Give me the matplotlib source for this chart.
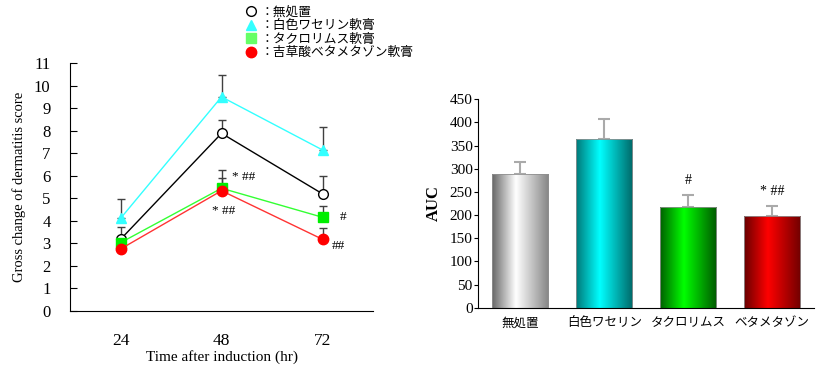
import numpy as np
import matplotlib
matplotlib.use("Agg")
import matplotlib.pyplot as plt
from matplotlib.lines import Line2D
from matplotlib.colors import LinearSegmentedColormap

plt.rcParams['font.family'] = ['Liberation Serif', 'Noto Sans CJK JP']

# time course data
hours = [24, 48, 72]
series_names = ['：無処置', '：白色ワセリン軟膏', '：タクロリムス軟膏', '：吉草酸ベタメタゾン軟膏']
untreated = [3.17, 7.88, 5.19]
untreated_err = [0.53, 0.57, 0.81]
vaseline = [4.1, 9.5, 7.14]
vaseline_err = [0.85, 0.96, 1.04]
tacrolimus = [3.02, 5.44, 4.15]
tacrolimus_err = [0.0, 0.81, 0.52]
betamethasone = [2.74, 5.33, 3.17]
betamethasone_err = [0.0, 0.57, 0.49]

# AUC data
groups = ['無処置', '白色ワセリン', 'タクロリムス', 'ベタメタゾン']
auc = [288, 365, 217, 197]
auc_err = [26, 42, 27, 23]
auc_marks = ['', '', '#', '* ##']

fig = plt.figure(figsize=(8.19, 3.69), dpi=100)

# ---- left: line chart
ax = fig.add_axes([0.0855, 0.158, 0.37, 0.671])
styles = [
    (untreated, untreated_err, 'black', 'o', 'white', 'black', 7),
    (vaseline, vaseline_err, '#33ffff', '^', '#33ffff', '#33ffff', 7),
    (tacrolimus, tacrolimus_err, '#33ff33', 's', '#00ee00', '#00ee00', 6.5),
    (betamethasone, betamethasone_err, '#ff3333', 'o', '#ff0000', '#ff0000', 7.5),
]
for vals, err, lc, mk, mfc, mec, ms in styles:
    ax.errorbar(hours, vals, yerr=[np.zeros(3), err], fmt='none',
                ecolor='#404040', elinewidth=1, capsize=3, capthick=1, zorder=2)
    ax.plot(hours, vals, color=lc, lw=1, marker=mk, mfc=mfc, mec=mec,
            ms=ms, zorder=3)

ax.text(50.6, 5.94, '* ##', fontsize=9.5, va='center', ha='left')
ax.text(45.8, 4.43, '* ##', fontsize=9.5, va='center', ha='left')
ax.text(76.2, 4.16, '#', fontsize=9.5, va='center', ha='left')
ax.text(74.3, 2.88, '##', fontsize=9.5, va='center', ha='left')

ax.set_xlim(12, 84)
ax.set_ylim(0, 11)
ax.set_yticks(range(0, 12))
ax.set_xticks(hours)
ax.tick_params(axis='y', direction='in', length=5, labelsize=12, pad=14)
ax.tick_params(axis='x', length=0, labelsize=12.5, pad=16)
for s in ['top', 'right']:
    ax.spines[s].set_visible(False)
ax.set_xlabel('Time after induction (hr)', fontsize=11, labelpad=1)
ax.set_ylabel('Gross change of dermatitis score', fontsize=10.5, labelpad=6)

handles = [
    Line2D([], [], ls='none', marker='o', mfc='white', mec='black', ms=7),
    Line2D([], [], ls='none', marker='^', mfc='#33ffff', mec='#33ffff', ms=7),
    Line2D([], [], ls='none', marker='s', mfc='#66ff66', mec='#66ff66', ms=6.5),
    Line2D([], [], ls='none', marker='o', mfc='#ff0000', mec='#ff0000', ms=7.5),
]
fig.legend(handles, series_names, loc='upper left',
           bbox_to_anchor=(0.292, 0.997), frameon=False, fontsize=9.2,
           handlelength=1, handletextpad=0.3, labelspacing=0.12,
           borderaxespad=0)

# ---- right: AUC bars with gradient fill
ax2 = fig.add_axes([0.584, 0.166, 0.41, 0.565])
x = np.arange(len(groups))
bars = ax2.bar(x, auc, width=0.67, color='none', edgecolor='#909090',
               linewidth=0.6, zorder=3)
ax2.errorbar(x, auc, yerr=[np.zeros(len(auc)), auc_err], fmt='none',
             ecolor='#aaaaaa', elinewidth=1.5, capsize=4, capthick=1.5,
             zorder=1)

grads = [
    ['#666666', '#ffffff', '#858585'],
    ['#007878', '#00ffff', '#006868'],
    ['#006000', '#00ff00', '#005800'],
    ['#680000', '#ff0000', '#700000'],
]
for b, cols in zip(bars, grads):
    cmap = LinearSegmentedColormap.from_list(
        'g', [(0, cols[0]), (0.42, cols[1]), (1, cols[2])])
    grad = np.linspace(0, 1, 256).reshape(1, -1)
    im = ax2.imshow(grad, cmap=cmap, aspect='auto',
                    extent=[b.get_x(), b.get_x() + b.get_width(), 0, b.get_height()],
                    zorder=2)
    im.set_clip_path(b)

for xi, v, e, m in zip(x, auc, auc_err, auc_marks):
    if m:
        ax2.text(xi, v + e + 16, m, ha='center', va='bottom', fontsize=10)

ax2.set_xlim(-0.5, 3.5)
ax2.set_ylim(0, 450)
ax2.set_yticks(range(0, 451, 50))
ax2.set_xticks(x)
ax2.set_xticklabels(groups, fontsize=9)
ax2.tick_params(axis='y', direction='out', length=3, labelsize=11, pad=1)
ax2.tick_params(axis='x', length=0, pad=7)
for s in ['top', 'right']:
    ax2.spines[s].set_visible(False)
ax2.set_ylabel('AUC', fontsize=12, fontweight='bold', labelpad=6)

fig.savefig('out.png', dpi=100)
